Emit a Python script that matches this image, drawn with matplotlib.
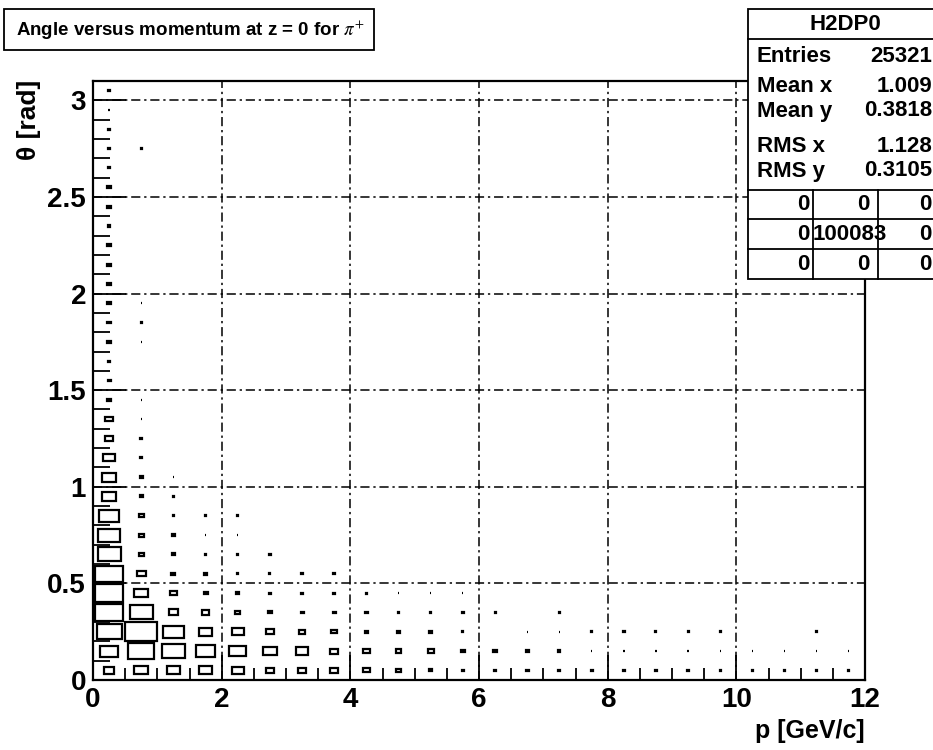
import matplotlib
matplotlib.use('Agg')
import matplotlib.pyplot as plt
from matplotlib.patches import Rectangle
from matplotlib.lines import Line2D
from matplotlib.ticker import MultipleLocator, FormatStrFormatter

plt.rcParams['font.family'] = ['Liberation Sans', 'DejaVu Sans']
plt.rcParams['mathtext.fontset'] = 'stix'

# Histogram binning: p in 0.5 GeV/c steps, theta in 0.1 rad steps
p_lo, p_hi, p_step = 0.0, 12.0, 0.5
theta_lo, theta_hi, theta_step = 0.0, 3.1, 0.1

# Bin contents, one list per p bin, theta bins counted upward from 0
counts = [
    [330, 570, 780, 890, 890, 850, 720, 670, 630, 460, 460, 360, 240, 240, 120, 90,
     60, 100, 100, 100, 100, 100, 100, 70, 100, 100, 50, 80, 50, 40, 80],
    [420, 800, 1000, 730, 440, 280, 170, 160, 160, 100, 100, 70, 70, 30, 30, 0,
     0, 30, 40, 30, 0, 0, 0, 0, 0, 0, 0, 40],
    [430, 730, 630, 300, 200, 120, 100, 80, 30, 30, 30],
    [400, 600, 400, 230, 120, 100, 40, 30, 40],
    [370, 520, 370, 150, 80, 30, 40, 30, 40],
    [260, 450, 250, 100, 50, 30, 40],
    [240, 380, 200, 90, 50, 50],
    [260, 260, 180, 90, 50, 50],
    [200, 230, 100, 80, 50],
    [170, 170, 100, 40, 30],
    [100, 180, 100, 40, 30],
    [80, 100, 30, 40, 30],
    [80, 100, 20, 30],
    [80, 80, 20],
    [60, 60, 20, 30],
    [60, 50, 50],
    [60, 50, 50],
    [60, 50, 30],
    [60, 50, 30],
    [40, 30, 30],
    [40, 30],
    [40, 30],
    [30, 30, 40],
    [30, 30],
]

hist_name = 'H2DP0'
stat_labels = ['Entries', 'Mean x', 'Mean y', 'RMS x', 'RMS y']
stat_values = ['25321', '1.009', '0.3818', '1.128', '0.3105']
overflow_table = [['0', '0', '0'],
                  ['0', '100083', '0'],
                  ['0', '0', '0']]

W, H = 933, 750
fig = plt.figure(figsize=(W / 100, H / 100), dpi=100)


def fx(px):
    return px / W


def fy(py):
    return 1 - py / H


ax = fig.add_axes([fx(93), fy(680), fx(865) - fx(93), fy(81) - fy(680)])
ax.set_xlim(p_lo, p_hi)
ax.set_ylim(theta_lo, theta_hi)

# box drawing: box side scales with bin content relative to the maximum
zmax = max(max(col) for col in counts)
for i, col in enumerate(counts):
    pc = p_lo + (i + 0.5) * p_step
    for j, n in enumerate(col):
        if n <= 0:
            continue
        tc = theta_lo + (j + 0.5) * theta_step
        frac = n / zmax
        w = p_step * frac
        h = theta_step * frac
        ax.add_patch(Rectangle((pc - w / 2, tc - h / 2), w, h, fill=False,
                               ec='black', lw=1.6, zorder=3))

ax.xaxis.set_major_locator(MultipleLocator(2))
ax.xaxis.set_minor_locator(MultipleLocator(0.5))
ax.yaxis.set_major_locator(MultipleLocator(0.5))
ax.yaxis.set_minor_locator(MultipleLocator(0.1))
ax.xaxis.set_major_formatter(FormatStrFormatter('%g'))
ax.yaxis.set_major_formatter(FormatStrFormatter('%g'))

ax.grid(True, which='major', color='black', lw=1.1, ls=(0, (6, 2.5, 1.5, 2.5)))
ax.tick_params(which='both', direction='in', top=False, right=False, width=1.3,
               labelsize=20)
ax.tick_params(axis='x', which='major', length=18, pad=5)
ax.tick_params(axis='x', which='minor', length=9)
ax.tick_params(axis='y', which='major', length=24, pad=5)
ax.tick_params(axis='y', which='minor', length=12)
for lab in ax.get_xticklabels() + ax.get_yticklabels():
    lab.set_fontweight('bold')
for s in ax.spines.values():
    s.set_linewidth(1.6)

# axis titles, placed like ROOT does (right / top aligned)
fig.text(fx(865), fy(731), 'p [GeV/c]', ha='right', va='center',
         fontsize=18, fontweight='bold')
fig.text(fx(29), fy(80), 'θ [rad]', rotation=90, ha='center', va='top',
         fontsize=19, fontweight='bold')

# title box
fig.add_artist(Rectangle((fx(4), fy(50)), fx(374) - fx(4), fy(9) - fy(50),
                         transform=fig.transFigure, fc='white', ec='black', lw=1.3))
fig.text(fx(190), fy(30), r'Angle versus momentum at z = 0 for $\pi^{+}$',
         ha='center', va='center', fontsize=13.5, fontweight='bold')

# statistics box
bl, bt, br, bb = 748, 9, 960, 279
fig.add_artist(Rectangle((fx(bl), fy(bb)), fx(br) - fx(bl), fy(bt) - fy(bb),
                         transform=fig.transFigure, fc='white', ec='black', lw=1.3,
                         zorder=5))


def hline(y, x0, x1):
    fig.add_artist(Line2D([fx(x0), fx(x1)], [fy(y), fy(y)], transform=fig.transFigure,
                          color='black', lw=1.3, zorder=6))


def vline(x, y0, y1):
    fig.add_artist(Line2D([fx(x), fx(x)], [fy(y0), fy(y1)], transform=fig.transFigure,
                          color='black', lw=1.3, zorder=6))


hline(39, bl, br)
fig.text(fx(845), fy(24), hist_name, ha='center', va='center', fontsize=16,
         fontweight='bold', zorder=7)
stat_rows = [57, 87, 111, 147, 171]
for lab, val, y in zip(stat_labels, stat_values, stat_rows):
    fig.text(fx(757), fy(y), lab, ha='left', va='center', fontsize=16,
             fontweight='bold', zorder=7)
    fig.text(fx(932), fy(y), val, ha='right', va='center', fontsize=16,
             fontweight='bold', zorder=7)

table_top = 190
row_lines = [190, 219, 249]
for y in row_lines:
    hline(y, bl, br)
vline(813, table_top, bb)
vline(878, table_top, bb)
table_rows = [205, 235, 264]
cell_right = [810, 870, 932]
for r, y in enumerate(table_rows):
    for c, txt in enumerate(overflow_table[r]):
        xr = cell_right[c]
        if len(txt) > 1:
            xr = 887
        fig.text(fx(xr), fy(y), txt, ha='right', va='center', fontsize=16,
                 fontweight='bold', zorder=7)

fig.savefig('out.png', dpi=100)
